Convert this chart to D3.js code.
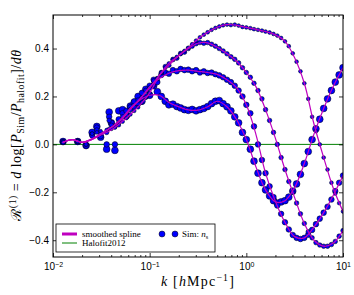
<!DOCTYPE html>
<html>
<head>
<meta charset="utf-8">
<script src="https://cdn.jsdelivr.net/npm/d3@7"></script>
<style>
html, body { margin: 0; background: #fff; }
svg { display: block; font-family: "Liberation Serif", "DejaVu Serif", serif; }
.axis path { display: none; }
.axis line { stroke: #000; stroke-width: 0.8; }
.axis text { font-size: 10px; fill: #000; }
</style>
</head>
<body>
<div id="chart"></div>
<script>

// simulation k bins [h/Mpc]
var kSim = [0.0127, 0.0180, 0.0220, 0.0254, 0.0284, 0.0311, 0.0359, 0.0381, 0.0402,
  0.0437, 0.0479, 0.0525, 0.0575, 0.0631, 0.0692, 0.0759, 0.0832, 0.0912, 0.100,
  0.110, 0.120, 0.132, 0.145, 0.158, 0.174, 0.191, 0.209, 0.229, 0.251,
  0.275, 0.302, 0.331, 0.363, 0.398, 0.437, 0.479, 0.525, 0.575, 0.631,
  0.692, 0.759, 0.832, 0.912, 1.00, 1.10, 1.20, 1.32, 1.45, 1.58,
  1.74, 1.91, 2.09, 2.29, 2.51, 2.75, 3.02, 3.31, 3.63, 3.98,
  4.37, 4.79, 5.25, 5.75, 6.31, 6.92, 7.59, 8.32, 9.12, 10.0];

// response measured in the four runs (largest peak first)
var simA = [0.008, 0.012, 0.0, 0.045, 0.05, 0.055, 0.06, 0.065, 0.065,
  0.07, 0.08, 0.095, 0.11, 0.125, 0.14, 0.155, 0.175, 0.195, 0.215,
  0.245, 0.275, 0.30, 0.32, 0.338, 0.352, 0.365, 0.377, 0.39, 0.403,
  0.418, 0.433, 0.447, 0.458, 0.468, 0.478, 0.486, 0.492, 0.497, 0.50,
  0.498, 0.50, 0.496, 0.49, 0.488, 0.485, 0.481, 0.478, 0.475, 0.471,
  0.467, 0.461, 0.454, 0.444, 0.43, 0.41, 0.38, 0.345, 0.305, 0.255,
  0.19, 0.115, 0.055, 0.0, -0.055, -0.105, -0.16, -0.205, -0.245, -0.28];

var simB = [0.01, 0.012, 0.0, 0.035, 0.06, 0.045, 0.05, 0.10, 0.08,
  0.075, 0.09, 0.115, 0.12, 0.145, 0.155, 0.185, 0.195, 0.225, 0.235,
  0.265, 0.275, 0.30, 0.325, 0.33, 0.355, 0.36, 0.38, 0.385, 0.40,
  0.41, 0.42, 0.425, 0.422, 0.425, 0.418, 0.41, 0.40, 0.39, 0.378,
  0.366, 0.355, 0.34, 0.32, 0.30, 0.28, 0.255, 0.225, 0.19, 0.145,
  0.10, 0.05, 0.0, -0.055, -0.105, -0.155, -0.20, -0.245, -0.29, -0.33,
  -0.365, -0.39, -0.41, -0.42, -0.425, -0.425, -0.418, -0.405, -0.383, -0.36];

var simC = [0.01, 0.012, -0.005, 0.04, 0.07, 0.035, 0.0, 0.115, 0.09,
  0.0, 0.105, 0.13, 0.14, 0.155, 0.18, 0.17, 0.215, 0.20, 0.245,
  0.27, 0.26, 0.29, 0.30, 0.295, 0.31, 0.305, 0.315, 0.31, 0.312,
  0.305, 0.31, 0.30, 0.305, 0.298, 0.30, 0.293, 0.288, 0.28, 0.27,
  0.26, 0.245, 0.225, 0.20, 0.165, 0.13, 0.075, 0.0, -0.065, -0.12,
  -0.175, -0.22, -0.255, -0.29, -0.325, -0.355, -0.378, -0.39, -0.395, -0.39,
  -0.377, -0.357, -0.333, -0.31, -0.285, -0.26, -0.23, -0.195, -0.16, -0.13];

var simD = [0.012, 0.012, -0.005, 0.05, 0.075, 0.03, -0.02, 0.135, 0.09,
  -0.025, 0.14, 0.145, 0.12, 0.16, 0.175, 0.20, 0.18, 0.23, 0.205,
  0.245, 0.22, 0.20, 0.18, 0.165, 0.168, 0.158, 0.152, 0.145, 0.142,
  0.146, 0.14, 0.145, 0.15, 0.158, 0.17, 0.18, 0.183, 0.17, 0.157,
  0.14, 0.115, 0.09, 0.05, 0.02, -0.02, -0.07, -0.12, -0.16, -0.19,
  -0.215, -0.235, -0.245, -0.24, -0.235, -0.22, -0.195, -0.165, -0.125, -0.08,
  -0.03, 0.02, 0.065, 0.105, 0.15, 0.19, 0.225, 0.26, 0.29, 0.32];

// smoothed splines
var kSpline = [0.0126, 0.0158, 0.0200, 0.0251, 0.0316, 0.0398, 0.0501, 0.0631, 0.0794, 0.100,
  0.126, 0.158, 0.200, 0.251, 0.316, 0.398, 0.501, 0.631, 0.794, 1.00,
  1.26, 1.58, 2.00, 2.51, 3.16, 3.98, 5.01, 6.31, 7.94, 10.0];

var splineA = [0.008, 0.02, 0.008, 0.02, 0.04, 0.06, 0.09, 0.125, 0.165, 0.215,
  0.288, 0.338, 0.371, 0.403, 0.44, 0.468, 0.489, 0.50, 0.497, 0.488,
  0.48, 0.471, 0.457, 0.43, 0.362, 0.255, 0.085, -0.055, -0.183, -0.28];
var splineB = [0.008, 0.02, 0.008, 0.02, 0.045, 0.07, 0.10, 0.145, 0.19, 0.235,
  0.288, 0.33, 0.37, 0.40, 0.422, 0.424, 0.405, 0.378, 0.347, 0.30,
  0.24, 0.145, 0.025, -0.105, -0.222, -0.33, -0.40, -0.425, -0.412, -0.36];
var splineC = [0.008, 0.02, 0.008, 0.022, 0.045, 0.07, 0.10, 0.15, 0.19, 0.24,
  0.275, 0.297, 0.308, 0.31, 0.305, 0.30, 0.292, 0.27, 0.236, 0.165,
  0.04, -0.12, -0.238, -0.325, -0.385, -0.39, -0.345, -0.285, -0.212, -0.13];
var splineD = [0.008, 0.02, 0.008, 0.022, 0.045, 0.07, 0.105, 0.15, 0.185, 0.205,
  0.205, 0.175, 0.157, 0.144, 0.143, 0.157, 0.18, 0.157, 0.103, 0.02,
  -0.095, -0.19, -0.24, -0.235, -0.18, -0.08, 0.043, 0.15, 0.243, 0.32];

// Halofit2012 reference
var halofitK = [0.01, 10];
var halofitR = [0, 0];

var xMajor = [0.01, 0.1, 1, 10];
var xMajorExp = ["\u22122", "\u22121", "0", "1"];
var xMinor = [0.02, 0.03, 0.04, 0.05, 0.06, 0.07, 0.08, 0.09,
  0.2, 0.3, 0.4, 0.5, 0.6, 0.7, 0.8, 0.9,
  2, 3, 4, 5, 6, 7, 8, 9];
var yTicks = [-0.4, -0.2, 0.0, 0.2, 0.4];

var W = 354, H = 295;
var margin = {top: 15, right: 11, bottom: 38, left: 53};

var svg = d3.select("#chart").append("svg")
    .attr("width", W)
    .attr("height", H);

var x = d3.scaleLog().domain([0.01, 10]).range([margin.left, W - margin.right]);
var y = d3.scaleLinear().domain([-0.47, 0.54]).range([H - margin.bottom, margin.top]);

svg.append("clipPath").attr("id", "clip")
  .append("rect")
    .attr("x", margin.left).attr("y", margin.top)
    .attr("width", W - margin.left - margin.right)
    .attr("height", H - margin.top - margin.bottom);

var plot = svg.append("g").attr("clip-path", "url(#clip)");

var line = d3.line()
    .x(function(d) { return x(d[0]); })
    .y(function(d) { return y(d[1]); });

// halofit
plot.append("path")
    .datum(d3.zip(halofitK, halofitR))
    .attr("fill", "none")
    .attr("stroke", "#008000")
    .attr("stroke-width", 1)
    .attr("d", line);

// sim points, biggest markers at the back
var sims = [simD, simC, simB, simA];
var radius = [3.4, 2.8, 2.3, 1.9];
sims.forEach(function(s, i) {
  plot.append("g").selectAll("circle")
      .data(d3.zip(kSim, s))
    .enter().append("circle")
      .attr("cx", function(d) { return x(d[0]); })
      .attr("cy", function(d) { return y(d[1]); })
      .attr("r", radius[i])
      .attr("fill", "#0000ff")
      .attr("stroke", "#000")
      .attr("stroke-width", 0.5);
});

// splines on top
var spline = d3.line()
    .curve(d3.curveCatmullRom.alpha(0.5))
    .x(function(d) { return x(d[0]); })
    .y(function(d) { return y(d[1]); });

[splineD, splineC, splineB, splineA].forEach(function(s) {
  plot.append("path")
      .datum(d3.zip(kSpline, s))
      .attr("fill", "none")
      .attr("stroke", "#bf00bf")
      .attr("stroke-width", 1.2)
      .attr("d", spline);
});

// axes, ticks pointing inward
var bottom = H - margin.bottom, right = W - margin.right;

var gx = svg.append("g").attr("class", "axis")
    .attr("transform", "translate(0," + bottom + ")")
    .call(d3.axisBottom(x).tickValues(xMajor).tickSize(-4).tickPadding(4).tickFormat(""));
gx.selectAll(".tick text").each(function(d, i) {
  var t = d3.select(this).attr("dy", "0.9em").text("10");
  t.append("tspan").attr("dy", "-0.45em").style("font-size", "7px").text(xMajorExp[i]);
});
svg.append("g").attr("class", "axis")
    .attr("transform", "translate(0," + bottom + ")")
    .call(d3.axisBottom(x).tickValues(xMinor).tickSize(-2).tickFormat(""));
svg.append("g").attr("class", "axis")
    .attr("transform", "translate(0," + margin.top + ")")
    .call(d3.axisTop(x).tickValues(xMajor).tickSize(-4).tickFormat(""));
svg.append("g").attr("class", "axis")
    .attr("transform", "translate(0," + margin.top + ")")
    .call(d3.axisTop(x).tickValues(xMinor).tickSize(-2).tickFormat(""));

svg.append("g").attr("class", "axis")
    .attr("transform", "translate(" + margin.left + ",0)")
    .call(d3.axisLeft(y).tickValues(yTicks).tickSize(-4).tickPadding(4).tickFormat(d3.format(".1f")));
svg.append("g").attr("class", "axis")
    .attr("transform", "translate(" + right + ",0)")
    .call(d3.axisRight(y).tickValues(yTicks).tickSize(-4).tickFormat(""));

// frame
svg.append("rect")
    .attr("x", margin.left).attr("y", margin.top)
    .attr("width", right - margin.left)
    .attr("height", bottom - margin.top)
    .attr("fill", "none")
    .attr("stroke", "#000")
    .attr("stroke-width", 1);

// labels with sub/superscripts
function rich(sel, parts) {
  parts.forEach(function(p) {
    var t = sel.append("tspan").text(p.t);
    if (p.it) t.style("font-style", "italic");
    if (p.sup) t.style("font-size", "0.7em").attr("dy", "-0.55em");
    if (p.sub) t.style("font-size", "0.7em").attr("dy", "0.3em");
    if (p.back) t.attr("dy", p.back);
  });
}

var xl = svg.append("text")
    .attr("x", (margin.left + right) / 2)
    .attr("y", 286)
    .attr("text-anchor", "middle")
    .style("font-size", "14px")
    .style("letter-spacing", "1.2px");
rich(xl, [{t: "k", it: 1}, {t: " ["}, {t: "h", it: 1}, {t: "Mpc"},
  {t: "\u22121", sup: 1}, {t: "]", back: "0.38em"}]);

var yl = svg.append("text")
    .attr("transform", "translate(21,135) rotate(-90)")
    .attr("text-anchor", "middle")
    .style("font-size", "14px")
    .style("letter-spacing", "0.5px");
rich(yl, [{t: "\u211B"}, {t: "(1)", sup: 1}, {t: " = ", back: "0.38em"}, {t: "d", it: 1},
  {t: " log["}, {t: "P", it: 1}, {t: "Sim", sub: 1}, {t: "/", back: "-0.21em"},
  {t: "P", it: 1}, {t: "halofit", sub: 1}, {t: "]/", back: "-0.21em"},
  {t: "d", it: 1}, {t: "\u03B8", it: 1}]);

// legend
var lg = svg.append("g").attr("transform", "translate(56,224)");
lg.append("rect")
    .attr("width", 159).attr("height", 28)
    .attr("fill", "#fff").attr("stroke", "#000").attr("stroke-width", 0.8);
lg.append("line").attr("x1", 6).attr("x2", 21).attr("y1", 10).attr("y2", 10)
    .attr("stroke", "#bf00bf").attr("stroke-width", 3);
lg.append("text").attr("x", 26).attr("y", 13).style("font-size", "9px").text("smoothed spline");
lg.append("line").attr("x1", 6).attr("x2", 21).attr("y1", 19).attr("y2", 19)
    .attr("stroke", "#008000").attr("stroke-width", 1);
lg.append("text").attr("x", 26).attr("y", 22).style("font-size", "9px").text("Halofit2012");
lg.selectAll("circle.mk").data([106, 119]).enter().append("circle")
    .attr("cx", function(d) { return d; }).attr("cy", 10).attr("r", 3)
    .attr("fill", "#0000ff").attr("stroke", "#000").attr("stroke-width", 0.5);
var st = lg.append("text").attr("x", 126).attr("y", 13).style("font-size", "9px");
rich(st, [{t: "Sim: "}, {t: "n", it: 1}, {t: "s", sub: 1}]);

</script>
</body>
</html>
